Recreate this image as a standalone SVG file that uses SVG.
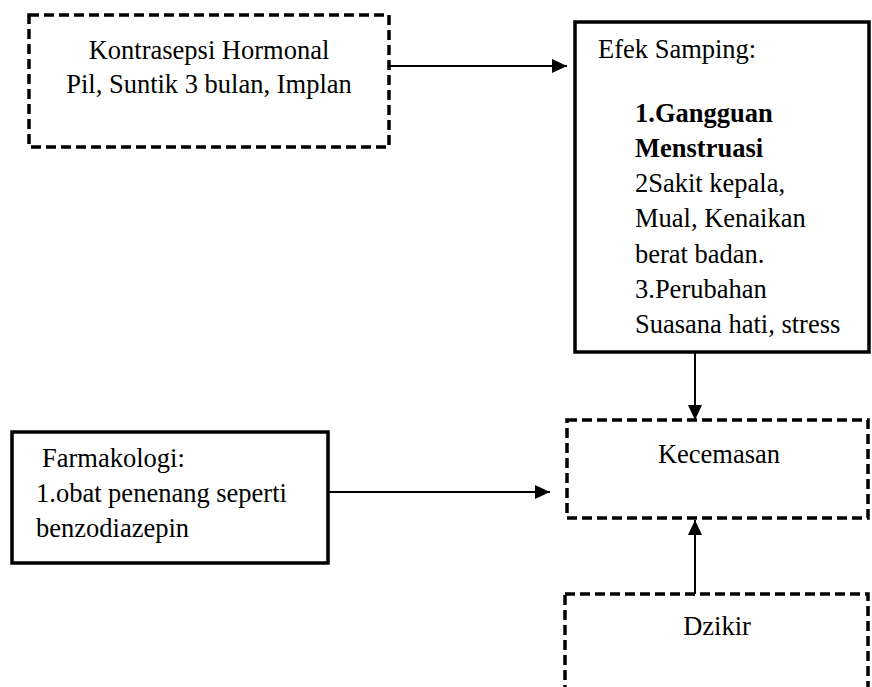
<svg xmlns="http://www.w3.org/2000/svg" width="872" height="687" viewBox="0 0 872 687">
  <style>
    text { font-size: 26.5px; fill: #000; }
    .b { font-weight: bold; }
    .mid { text-anchor: middle; }
    .dash { fill: #fff; stroke: #000; stroke-width: 3.5; stroke-dasharray: 10 5; }
    .solid { fill: #fff; stroke: #000; stroke-width: 3.5; }
    .conn { fill: none; stroke: #000; stroke-width: 2; marker-end: url(#arrow); }
  </style>
  <defs>
    <marker id="arrow" viewBox="0 0 15 14" refX="15" refY="7" markerWidth="15" markerHeight="14" markerUnits="userSpaceOnUse" orient="auto">
      <path d="M0,0 L15,7 L0,14 z" fill="#000"/>
    </marker>
  </defs>
  <rect width="872" height="687" fill="#fff"/>

  <g font-family="'Liberation Serif', 'Times New Roman', Times, 'DejaVu Serif', serif">
  <g id="kontrasepsi">
    <rect class="dash" x="29" y="15" width="360" height="132"/>
    <text class="mid" x="209" y="59">Kontrasepsi Hormonal</text>
    <text class="mid" x="209" y="93">Pil, Suntik 3 bulan, Implan</text>
  </g>

  <g id="efek-samping">
    <rect class="solid" x="575" y="22" width="294" height="330"/>
    <text x="598" y="58">Efek Samping:</text>
    <text class="b" x="635" y="122">1.Gangguan</text>
    <text class="b" x="635" y="157">Menstruasi</text>
    <text x="635" y="192">2Sakit kepala,</text>
    <text x="635" y="227">Mual, Kenaikan</text>
    <text x="635" y="263">berat badan.</text>
    <text x="635" y="298">3.Perubahan</text>
    <text x="635" y="333">Suasana hati, stress</text>
  </g>

  <g id="farmakologi">
    <rect class="solid" x="12" y="432" width="316" height="131"/>
    <text x="42" y="467">Farmakologi:</text>
    <text x="36" y="502">1.obat penenang seperti</text>
    <text x="36" y="537">benzodiazepin</text>
  </g>

  <g id="kecemasan">
    <rect class="dash" x="567" y="420" width="301" height="98"/>
    <text class="mid" x="719" y="463">Kecemasan</text>
  </g>

  <g id="dzikir">
    <rect class="dash" x="565" y="594" width="303" height="130"/>
    <text class="mid" x="717" y="635">Dzikir</text>
  </g>
  </g>

  <g id="connectors">
    <path class="conn" d="M389,66 H567"/>
    <path class="conn" d="M695,352 V420"/>
    <path class="conn" d="M328,492 H550"/>
    <path class="conn" d="M695,594 V520"/>
  </g>
</svg>
